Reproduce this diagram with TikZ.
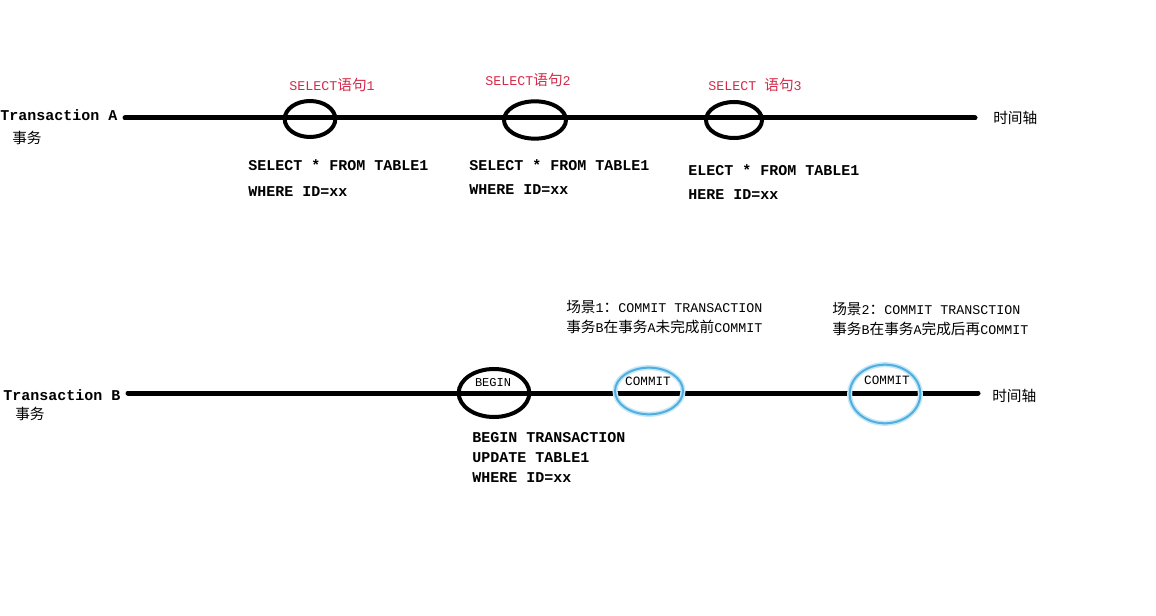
\documentclass[tikz,border=0pt]{standalone}
\usepackage{fontspec}
\setmainfont{Liberation Mono}
\newfontfamily\cjk[Scale=1.1]{Noto Sans CJK SC}
\newcommand{\zh}[1]{{\cjk #1}}
\usetikzlibrary{shapes.geometric,positioning}
\definecolor{txred}{HTML}{D42A48}
\definecolor{txblue}{HTML}{4FB0E0}
\definecolor{txglow}{HTML}{C4E6F7}

\begin{document}
\begin{tikzpicture}[
  x=0.75pt, y=-0.75pt,
  axis/.style={line width=3.75pt, line cap=round},
  stmt/.style={ellipse, draw, line width=3pt, inner sep=0pt},
  commitring/.style={ellipse, draw=txblue, line width=1.5pt, inner sep=0pt,
    preaction={draw=txglow, line width=3.8pt}},
  txname/.style={font=\bfseries\fontsize{11.25}{13}\selectfont, anchor=west, inner sep=0pt},
  sub/.style={font=\fontsize{10}{12}\selectfont, anchor=west, inner sep=0pt},
  code/.style={font=\bfseries\fontsize{11.25}{18}\selectfont, anchor=north west,
    align=left, inner sep=0pt},
  redtag/.style={font=\fontsize{10}{12}\selectfont, text=txred, inner sep=0pt},
  note/.style={font=\fontsize{10}{15}\selectfont, anchor=north west, align=left, inner sep=0pt},
  tag/.style={font=\fontsize{9}{11}\selectfont, inner sep=0pt},
]
  \useasboundingbox (0,0) rectangle (1156,616);

  % Transaction A
  \node[txname] (txA) at (0,115) {Transaction A};
  \node[sub] (txAzh) at (12,138) {\zh{事务}};
  \coordinate (a0) at (125,118);
  \coordinate (a1) at (975,118);
  \draw[axis] (a0) -- (a1);
  \node[sub] (timeA) at (993,118) {\zh{时间轴}};

  % SELECT statements
  \node[stmt, minimum width=38pt, minimum height=27pt] (sel1) at (310,119) {};
  \node[stmt, minimum width=46.5pt, minimum height=28pt] (sel2) at (535,120) {};
  \node[stmt, minimum width=42pt, minimum height=27pt] (sel3) at (734,120) {};

  \node[redtag] (sel1lbl) at (332,85) {SELECT\zh{语句}1};
  \node[redtag] (sel2lbl) at (528,80) {SELECT\zh{语句}2};
  \node[redtag] (sel3lbl) at (755,85) {SELECT \zh{语句}3};

  \node[code, font=\bfseries\fontsize{11.25}{19.5}\selectfont] (sel1sql) at (248,159)
    {SELECT * FROM TABLE1\\WHERE ID=xx};
  \node[code] (sel2sql) at (469,159) {SELECT * FROM TABLE1\\WHERE ID=xx};
  \node[code] (sel3sql) at (688,164) {ELECT * FROM TABLE1\\HERE ID=xx};

  % Transaction B
  \node[txname] (txB) at (3,395) {Transaction B};
  \node[sub] (txBzh) at (15,414) {\zh{事务}};
  \coordinate (b0) at (128,393);
  \coordinate (b1) at (978,393);
  \draw[axis] (b0) -- (b1);
  \node[sub] (timeB) at (992,396) {\zh{时间轴}};

  % BEGIN and the two COMMIT points
  \node[stmt, minimum width=53pt, minimum height=36pt] (begin) at (494,393) {};
  \node[tag] (beginlbl) at (493,383) {BEGIN};
  \node[code, font=\bfseries\fontsize{11.25}{15}\selectfont] (beginsql) at (472,432)
    {BEGIN TRANSACTION\\UPDATE TABLE1\\WHERE ID=xx};

  \node[commitring, minimum width=51pt, minimum height=35pt] (commit1) at (649,391) {};
  \node[tag, font=\fontsize{9.5}{11}\selectfont] (commit1lbl) at (648,381) {COMMIT};
  \node[commitring, minimum width=53pt, minimum height=44pt] (commit2) at (885,394) {};
  \node[tag, font=\fontsize{9.5}{11}\selectfont] (commit2lbl) at (887,380) {COMMIT};

  % scenario notes
  \node[note] (scene1) at (566,300)
    {\zh{场景}1\zh{：}COMMIT TRANSACTION\\\zh{事务}B\zh{在事务}A\zh{未完成前}COMMIT};
  \node[note] (scene2) at (832,302)
    {\zh{场景}2\zh{：}COMMIT TRANSCTION\\\zh{事务}B\zh{在事务}A\zh{完成后再}COMMIT};

\end{tikzpicture}
\end{document}
